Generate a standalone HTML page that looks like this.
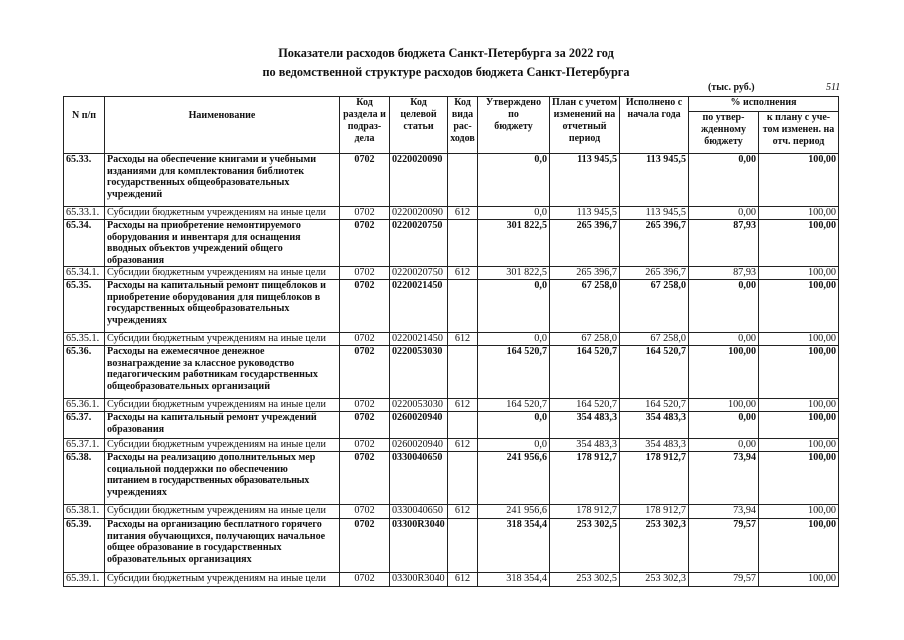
<!DOCTYPE html>
<html><head><meta charset="utf-8"><style>
body{margin:0;background:#fff;width:904px;height:640px;position:relative;overflow:hidden;font-family:"Liberation Serif",serif;color:#111}
.t{position:absolute;left:0;width:904px;text-align:center;font-weight:bold;font-size:12.3px}
table{position:absolute;left:63px;top:96px;border-collapse:collapse;table-layout:fixed;font-size:10.2px}
td{border:1px solid #222;padding:0 2px;vertical-align:top;line-height:11.5px;overflow:hidden;white-space:normal}
.h td{text-align:center;font-weight:bold;vertical-align:top;line-height:12px;font-size:10px}
.b td{font-weight:bold;font-size:10.1px}
.r{text-align:right}.c{text-align:center}
.nw{white-space:nowrap}
</style></head><body>
<div class="t" style="top:46px;left:-6px">Показатели расходов бюджета Санкт-Петербурга за 2022 год</div>
<div class="t" style="top:65px;left:-6px">по ведомственной структуре расходов бюджета Санкт-Петербурга</div>
<div style="position:absolute;left:708px;top:82px;font-size:10px;font-weight:bold">(тыс. руб.)</div>
<div style="position:absolute;left:826px;top:82px;font-size:10px;font-style:italic">511</div>
<table>
<colgroup><col style="width:41px"><col style="width:235px"><col style="width:50px"><col style="width:58px"><col style="width:30px"><col style="width:72px"><col style="width:70px"><col style="width:69px"><col style="width:70px"><col style="width:80px"></colgroup>
<tr class="h" style="height:15px"><td rowspan="2" style="vertical-align:middle;padding-bottom:18px">N п/п</td><td rowspan="2" style="vertical-align:middle;padding-bottom:18px">Наименование</td><td rowspan="2" style="padding:0">Код раздела и подраз-дела</td><td rowspan="2">Код целевой статьи</td><td rowspan="2" style="padding:0">Код вида рас-ходов</td><td rowspan="2" style="padding:0">Утверждено<br>по<br>бюджету</td><td rowspan="2" style="padding:0">План с учетом изменений на отчетный период</td><td rowspan="2">Исполнено с начала года</td><td colspan="2">% исполнения</td></tr>
<tr class="h" style="height:42px"><td style="padding:0">по утвер-жденному бюджету</td><td style="padding:0">к плану с уче-том изменен. на отч. период</td></tr>
<tr class="b" style="height:53px"><td>65.33.</td><td>Расходы на обеспечение книгами и учебными изданиями для комплектования библиотек государственных общеобразовательных учреждений</td><td class="c">0702</td><td>0220020090</td><td></td><td class="r">0,0</td><td class="r">113 945,5</td><td class="r">113 945,5</td><td class="r">0,00</td><td class="r">100,00</td></tr>
<tr style="height:13px"><td>65.33.1.</td><td>Субсидии бюджетным учреждениям на иные цели</td><td class="c">0702</td><td>0220020090</td><td class="c">612</td><td class="r">0,0</td><td class="r">113 945,5</td><td class="r">113 945,5</td><td class="r">0,00</td><td class="r">100,00</td></tr>
<tr class="b" style="height:47px"><td>65.34.</td><td>Расходы на приобретение немонтируемого оборудования и инвентаря для оснащения вводных объектов учреждений общего образования</td><td class="c">0702</td><td>0220020750</td><td></td><td class="r">301 822,5</td><td class="r">265 396,7</td><td class="r">265 396,7</td><td class="r">87,93</td><td class="r">100,00</td></tr>
<tr style="height:13px"><td>65.34.1.</td><td>Субсидии бюджетным учреждениям на иные цели</td><td class="c">0702</td><td>0220020750</td><td class="c">612</td><td class="r">301 822,5</td><td class="r">265 396,7</td><td class="r">265 396,7</td><td class="r">87,93</td><td class="r">100,00</td></tr>
<tr class="b" style="height:53px"><td>65.35.</td><td>Расходы на капитальный ремонт пищеблоков и приобретение оборудования для пищеблоков в государственных общеобразовательных учреждениях</td><td class="c">0702</td><td>0220021450</td><td></td><td class="r">0,0</td><td class="r">67 258,0</td><td class="r">67 258,0</td><td class="r">0,00</td><td class="r">100,00</td></tr>
<tr style="height:13px"><td>65.35.1.</td><td>Субсидии бюджетным учреждениям на иные цели</td><td class="c">0702</td><td>0220021450</td><td class="c">612</td><td class="r">0,0</td><td class="r">67 258,0</td><td class="r">67 258,0</td><td class="r">0,00</td><td class="r">100,00</td></tr>
<tr class="b" style="height:53px"><td>65.36.</td><td>Расходы на ежемесячное денежное вознаграждение за классное руководство педагогическим работникам государственных общеобразовательных организаций</td><td class="c">0702</td><td>0220053030</td><td></td><td class="r">164 520,7</td><td class="r">164 520,7</td><td class="r">164 520,7</td><td class="r">100,00</td><td class="r">100,00</td></tr>
<tr style="height:13px"><td>65.36.1.</td><td>Субсидии бюджетным учреждениям на иные цели</td><td class="c">0702</td><td>0220053030</td><td class="c">612</td><td class="r">164 520,7</td><td class="r">164 520,7</td><td class="r">164 520,7</td><td class="r">100,00</td><td class="r">100,00</td></tr>
<tr class="b" style="height:27px"><td>65.37.</td><td>Расходы на капитальный ремонт учреждений образования</td><td class="c">0702</td><td>0260020940</td><td></td><td class="r">0,0</td><td class="r">354 483,3</td><td class="r">354 483,3</td><td class="r">0,00</td><td class="r">100,00</td></tr>
<tr style="height:13px"><td>65.37.1.</td><td>Субсидии бюджетным учреждениям на иные цели</td><td class="c">0702</td><td>0260020940</td><td class="c">612</td><td class="r">0,0</td><td class="r">354 483,3</td><td class="r">354 483,3</td><td class="r">0,00</td><td class="r">100,00</td></tr>
<tr class="b" style="height:53px"><td>65.38.</td><td><span class="nw">Расходы на реализацию дополнительных мер</span><br><span class="nw">социальной поддержки по обеспечению</span><br><span class="nw" style="letter-spacing:-0.3px">питанием в государственных образовательных</span><br>учреждениях</td><td class="c">0702</td><td>0330040650</td><td></td><td class="r">241 956,6</td><td class="r">178 912,7</td><td class="r">178 912,7</td><td class="r">73,94</td><td class="r">100,00</td></tr>
<tr style="height:14px"><td>65.38.1.</td><td>Субсидии бюджетным учреждениям на иные цели</td><td class="c">0702</td><td>0330040650</td><td class="c">612</td><td class="r">241 956,6</td><td class="r">178 912,7</td><td class="r">178 912,7</td><td class="r">73,94</td><td class="r">100,00</td></tr>
<tr class="b" style="height:54px"><td>65.39.</td><td>Расходы на организацию бесплатного горячего питания обучающихся, получающих начальное общее образование в государственных образовательных организациях</td><td class="c">0702</td><td>03300R3040</td><td></td><td class="r">318 354,4</td><td class="r">253 302,5</td><td class="r">253 302,3</td><td class="r">79,57</td><td class="r">100,00</td></tr>
<tr style="height:14px"><td>65.39.1.</td><td>Субсидии бюджетным учреждениям на иные цели</td><td class="c">0702</td><td>03300R3040</td><td class="c">612</td><td class="r">318 354,4</td><td class="r">253 302,5</td><td class="r">253 302,3</td><td class="r">79,57</td><td class="r">100,00</td></tr>
</table>
</body></html>
